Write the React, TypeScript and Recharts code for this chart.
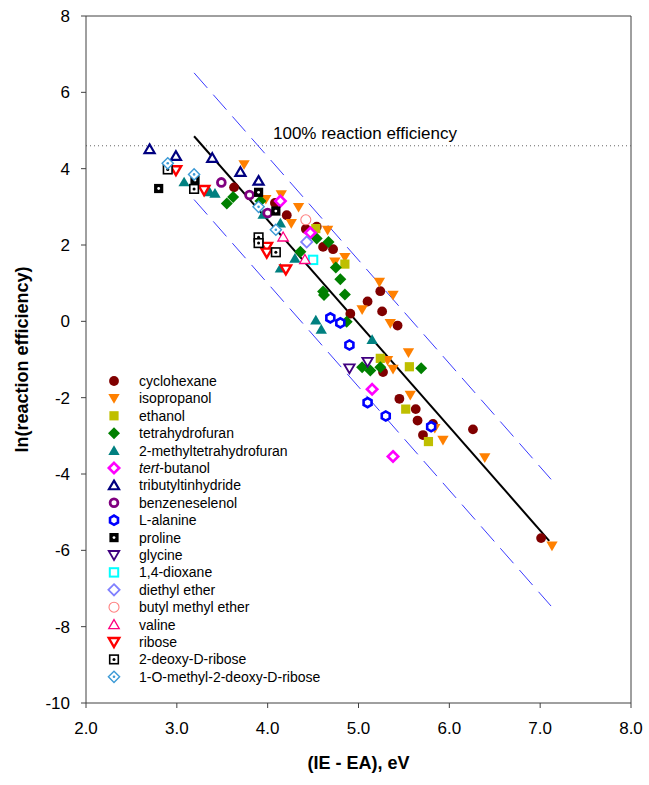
import React from 'react';
import {
  Legend,
  ReferenceLine,
  Scatter,
  ScatterChart,
  XAxis,
  YAxis,
} from 'recharts';

type Pair = [number, number];

// values, [IE - EA (eV), ln(reaction efficiency)]
const cyclohexane: Pair[] = [
  [3.63, 3.51], [4.08, 3.1], [4.21, 2.78], [4.42, 2.42], [4.54, 2.48], [4.61, 1.95],
  [4.72, 1.89], [4.91, 0.2], [5.1, 0.52], [5.24, 0.79], [5.26, 0.26], [5.43, -0.11],
  [5.27, -1.33], [5.45, -2.03], [5.63, -2.3], [5.65, -2.6], [5.82, -2.69], [5.71, -2.98],
  [6.26, -2.83], [7.01, -5.68],
];
const isopropanol: Pair[] = [
  [3.74, 4.11], [3.98, 3.2], [4.15, 3.32], [4.34, 2.99], [4.26, 2.57], [4.66, 2.39],
  [4.74, 1.56], [4.85, 1.68], [5.04, 0.31], [5.23, 1.03], [5.38, 0.69], [5.35, -0.05],
  [5.55, -0.82], [5.32, -1.02], [5.38, -1.25], [5.57, -1.93], [5.84, -2.8], [5.93, -3.11],
  [6.39, -3.57], [7.13, -5.88],
];
const ethanol: Pair[] = [[4.53, 2.43], [4.85, 1.5], [5.24, -0.97], [5.56, -1.19], [5.52, -2.3], [5.77, -3.15]];
const tetrahydrofuran: Pair[] = [
  [3.55, 3.09], [3.62, 3.26], [3.92, 3.15], [4.36, 1.82], [4.54, 2.17], [4.67, 2.08],
  [4.75, 1.41], [4.8, 1.1], [4.61, 0.78], [4.62, 0.69], [4.85, 0.7], [4.87, -0.01],
  [5.04, -1.2], [5.13, -1.29], [5.24, -1.2], [5.69, -1.23],
];
const methylTHF: Pair[] = [
  [3.08, 3.65], [3.36, 3.39], [3.42, 3.35], [3.95, 2.8], [4.14, 2.57], [4.3, 1.65],
  [4.14, 1.39], [4.53, 0.03], [4.59, -0.21], [5.15, -0.48],
];
const tertButanol: Pair[] = [[4.14, 3.15], [4.47, 2.32], [5.15, -1.78], [5.38, -3.54]];
const tributyltin: Pair[] = [[2.7, 4.51], [2.99, 4.33], [3.39, 4.28], [3.7, 3.91], [3.9, 3.68]];
const benzeneselenol: Pair[] = [[3.49, 3.64], [3.8, 3.31], [4.0, 2.84]];
const alanine: Pair[] = [[4.69, 0.09], [4.8, -0.04], [4.9, -0.62], [5.1, -2.13], [5.3, -2.48], [5.8, -2.76]];
const proline: Pair[] = [[2.8, 3.48], [3.2, 3.7], [3.9, 3.38], [4.09, 2.89]];
const glycine: Pair[] = [[4.9, -1.23], [5.1, -1.06]];
const dioxane: Pair[] = [[4.5, 1.61]];
const diethylEther: Pair[] = [[4.43, 2.08]];
const butylMethylEther: Pair[] = [[4.42, 2.66]];
const valine: Pair[] = [[4.17, 2.21], [4.41, 1.62]];
const ribose: Pair[] = [[2.99, 3.96], [3.3, 3.44], [3.99, 1.95], [3.99, 1.8], [4.2, 1.36]];
const deoxyRibose: Pair[] = [[2.9, 3.98], [3.19, 3.47], [3.9, 2.2], [3.9, 2.05], [4.09, 1.81]];
const methylDeoxyRibose: Pair[] = [[2.9, 4.14], [3.19, 3.85], [3.9, 3.0], [4.09, 2.4]];

// fitted line and the two dashed bounds
const fitLine: Pair[] = [[3.19, 4.85], [7.1, -5.75]];
const upperBound: Pair[] = [[3.19, 6.51], [7.12, -4.14]];
const lowerBound: Pair[] = [[3.19, 3.19], [7.12, -7.46]];
const maxEfficiency = 4.6; // ln(100)

const xTicks = [2, 3, 4, 5, 6, 7, 8];
const yTicks = [-10, -8, -6, -4, -2, 0, 2, 4, 6, 8];

type Kind =
  | 'circle' | 'triDown' | 'square' | 'diamond' | 'triUp'
  | 'diamondThick' | 'triUpOpen' | 'ring' | 'hexagon' | 'squareBlack'
  | 'triDownOpen' | 'squareOpen' | 'diamondOpen' | 'circleThin' | 'triUpThin'
  | 'triDownThick' | 'squareDot' | 'diamondDot';

const SERIES: { name: string; data: Pair[]; color: string; kind: Kind }[] = [
  { name: 'cyclohexane', data: cyclohexane, color: '#800000', kind: 'circle' },
  { name: 'isopropanol', data: isopropanol, color: '#ff8000', kind: 'triDown' },
  { name: 'ethanol', data: ethanol, color: '#bfbf00', kind: 'square' },
  { name: 'tetrahydrofuran', data: tetrahydrofuran, color: '#008000', kind: 'diamond' },
  { name: '2-methyltetrahydrofuran', data: methylTHF, color: '#008080', kind: 'triUp' },
  { name: 'tert-butanol', data: tertButanol, color: '#ff00ff', kind: 'diamondThick' },
  { name: 'tributyltinhydride', data: tributyltin, color: '#000080', kind: 'triUpOpen' },
  { name: 'benzeneselenol', data: benzeneselenol, color: '#800080', kind: 'ring' },
  { name: 'L-alanine', data: alanine, color: '#0000ff', kind: 'hexagon' },
  { name: 'proline', data: proline, color: '#000000', kind: 'squareBlack' },
  { name: 'glycine', data: glycine, color: '#400080', kind: 'triDownOpen' },
  { name: '1,4-dioxane', data: dioxane, color: '#00ffff', kind: 'squareOpen' },
  { name: 'diethyl ether', data: diethylEther, color: '#8080ff', kind: 'diamondOpen' },
  { name: 'butyl methyl ether', data: butylMethylEther, color: '#ff8080', kind: 'circleThin' },
  { name: 'valine', data: valine, color: '#ff0080', kind: 'triUpThin' },
  { name: 'ribose', data: ribose, color: '#ff0000', kind: 'triDownThick' },
  { name: '2-deoxy-D-ribose', data: deoxyRibose, color: '#000000', kind: 'squareDot' },
  { name: '1-O-methyl-2-deoxy-D-ribose', data: methylDeoxyRibose, color: '#3c9ad6', kind: 'diamondDot' },
];

const FONT = '"Liberation Sans", Arial, Helvetica, sans-serif';
const AXIS = '#404040';

const toPts = (d: Pair[]) => d.map(([x, y]) => ({ x, y }));

const pts = (list: number[][]) => list.map((p) => p.join(',')).join(' ');
const triUp = (cx: number, cy: number, r: number) =>
  pts([[cx, cy - r], [cx + r * 1.05, cy + r * 0.8], [cx - r * 1.05, cy + r * 0.8]]);
const triDown = (cx: number, cy: number, r: number) =>
  pts([[cx, cy + r], [cx + r * 1.05, cy - r * 0.8], [cx - r * 1.05, cy - r * 0.8]]);
const diamond = (cx: number, cy: number, r: number) =>
  pts([[cx, cy - r], [cx + r, cy], [cx, cy + r], [cx - r, cy]]);
const hexagon = (cx: number, cy: number, r: number) =>
  pts([0, 1, 2, 3, 4, 5].map((i) => {
    const a = (Math.PI / 3) * i + Math.PI / 6;
    return [cx + r * Math.cos(a), cy + r * Math.sin(a)];
  }));

function marker(kind: Kind, c: string, cx: number, cy: number) {
  switch (kind) {
    case 'circle':
      return <circle cx={cx} cy={cy} r={4.9} fill={c} />;
    case 'triDown':
      return <polygon points={triDown(cx, cy, 5.4)} fill={c} />;
    case 'square':
      return <rect x={cx - 4.6} y={cy - 4.6} width={9.2} height={9.2} fill={c} />;
    case 'diamond':
      return <polygon points={diamond(cx, cy, 6)} fill={c} />;
    case 'triUp':
      return <polygon points={triUp(cx, cy, 5.4)} fill={c} />;
    case 'diamondThick':
      return <polygon points={diamond(cx, cy, 5.2)} fill="#fff" stroke={c} strokeWidth={2.6} />;
    case 'triUpOpen':
      return <polygon points={triUp(cx, cy, 4.8)} fill="#fff" stroke={c} strokeWidth={2.2} />;
    case 'ring':
      return <circle cx={cx} cy={cy} r={3.9} fill="#fff" stroke={c} strokeWidth={2.8} />;
    case 'hexagon':
      return <polygon points={hexagon(cx, cy, 4.6)} fill="#fff" stroke={c} strokeWidth={2.6} />;
    case 'squareBlack':
      return (
        <g>
          <rect x={cx - 4.6} y={cy - 4.6} width={9.2} height={9.2} fill={c} />
          <circle cx={cx} cy={cy} r={1.4} fill="#fff" />
        </g>
      );
    case 'triDownOpen':
      return <polygon points={triDown(cx, cy, 5)} fill="#fff" stroke={c} strokeWidth={1.8} />;
    case 'squareOpen':
      return <rect x={cx - 4.2} y={cy - 4.2} width={8.4} height={8.4} fill="#fff" stroke={c} strokeWidth={2} />;
    case 'diamondOpen':
      return <polygon points={diamond(cx, cy, 5.6)} fill="#fff" stroke={c} strokeWidth={1.8} />;
    case 'circleThin':
      return <circle cx={cx} cy={cy} r={5} fill="#fff" stroke={c} strokeWidth={1.1} />;
    case 'triUpThin':
      return <polygon points={triUp(cx, cy, 5)} fill="#fff" stroke={c} strokeWidth={1.3} />;
    case 'triDownThick':
      return <polygon points={triDown(cx, cy, 5)} fill="#fff" stroke={c} strokeWidth={2.4} />;
    case 'squareDot':
      return (
        <g>
          <rect x={cx - 4.3} y={cy - 4.3} width={8.6} height={8.6} fill="#fff" stroke={c} strokeWidth={1.6} />
          <circle cx={cx} cy={cy} r={1.5} fill={c} />
        </g>
      );
    case 'diamondDot':
      return (
        <g>
          <polygon points={diamond(cx, cy, 5.6)} fill="#fff" stroke={c} strokeWidth={1.4} />
          <circle cx={cx} cy={cy} r={1.3} fill={c} />
        </g>
      );
  }
}

function LegendBox() {
  return (
    <svg width={250} height={320} style={{ display: 'block', fontFamily: FONT }}>
      {SERIES.map((s, i) => {
        const cy = 11 + i * 17.4;
        return (
          <g key={s.name}>
            {marker(s.kind, s.color, 10, cy)}
            <text x={35} y={cy + 5} fontSize={14} fill="#000">
              {s.name === 'tert-butanol' ? (
                <>
                  <tspan fontStyle="italic">tert</tspan>-butanol
                </>
              ) : (
                s.name
              )}
            </text>
          </g>
        );
      })}
    </svg>
  );
}

function XTick(props: any) {
  const { x, y, payload } = props;
  return (
    <text x={x} y={y + 24} textAnchor="middle" fontSize={17} fill="#000" fontFamily={FONT}>
      {Number(payload.value).toFixed(1)}
    </text>
  );
}

function YTick(props: any) {
  const { x, y, payload } = props;
  return (
    <text x={x - 9} y={y + 6} textAnchor="end" fontSize={17} fill="#000" fontFamily={FONT}>
      {payload.value}
    </text>
  );
}

function YTitle(props: any) {
  const vb = props.viewBox ?? { x: 30, y: 16, width: 56, height: 688 };
  const cy = vb.y + vb.height / 2;
  return (
    <text x={23} y={cy} transform={`rotate(-90 23 ${cy})`} textAnchor="middle"
      fontSize={18} fontWeight="bold" fill="#000" dominantBaseline="middle">
      ln(reaction efficiency)
    </text>
  );
}

function XTitle(props: any) {
  const vb = props.viewBox ?? { x: 86, y: 703, width: 545, height: 50 };
  return (
    <text x={vb.x + vb.width / 2} y={vb.y + 66} textAnchor="middle"
      fontSize={18} fontWeight="bold" fill="#000">
      (IE - EA), eV
    </text>
  );
}

function EffLabel(props: any) {
  const vb = props.viewBox ?? { x: 86, y: 146 };
  return (
    <text x={vb.x + 187} y={vb.y - 7} fontSize={17} fill="#000">
      100% reaction efficiency
    </text>
  );
}

export default function App() {
  return (
    <div style={{ position: 'absolute', left: 0, top: 0, background: '#fff', fontFamily: FONT }}>
      <ScatterChart width={649} height={785} margin={{ top: 16, right: 18, bottom: 32, left: 30 }}>
        <XAxis
          type="number"
          dataKey="x"
          domain={[2, 8]}
          ticks={xTicks}
          tick={<XTick />}
          tickSize={5}
          stroke={AXIS}
          height={50}
          label={<XTitle />}
        />
        <YAxis
          type="number"
          dataKey="y"
          domain={[-10, 8]}
          ticks={yTicks}
          tick={<YTick />}
          tickSize={5}
          stroke={AXIS}
          width={56}
          label={<YTitle />}
        />
        <ReferenceLine y={8} stroke={AXIS} />
        <ReferenceLine x={8} stroke={AXIS} />
        <ReferenceLine
          y={maxEfficiency}
          stroke="#666"
          strokeDasharray="1 3"
          label={<EffLabel />}
        />
        <ReferenceLine segment={toPts(upperBound)} stroke="#3a3aff" strokeWidth={1} strokeDasharray="20 9" />
        <ReferenceLine segment={toPts(lowerBound)} stroke="#3a3aff" strokeWidth={1} strokeDasharray="20 9" />
        <ReferenceLine segment={toPts(fitLine)} stroke="#000" strokeWidth={2} />
        {SERIES.map((s) => (
          <Scatter
            key={s.name}
            name={s.name}
            data={toPts(s.data)}
            isAnimationActive={false}
            shape={(p: any) => marker(s.kind, s.color, p.cx, p.cy)}
          />
        ))}
        <Legend
          layout="vertical"
          align="center"
          verticalAlign="middle"
          content={<LegendBox />}
          wrapperStyle={{ position: 'absolute', left: 104, top: 370, width: 250, height: 320 }}
        />
      </ScatterChart>
    </div>
  );
}
